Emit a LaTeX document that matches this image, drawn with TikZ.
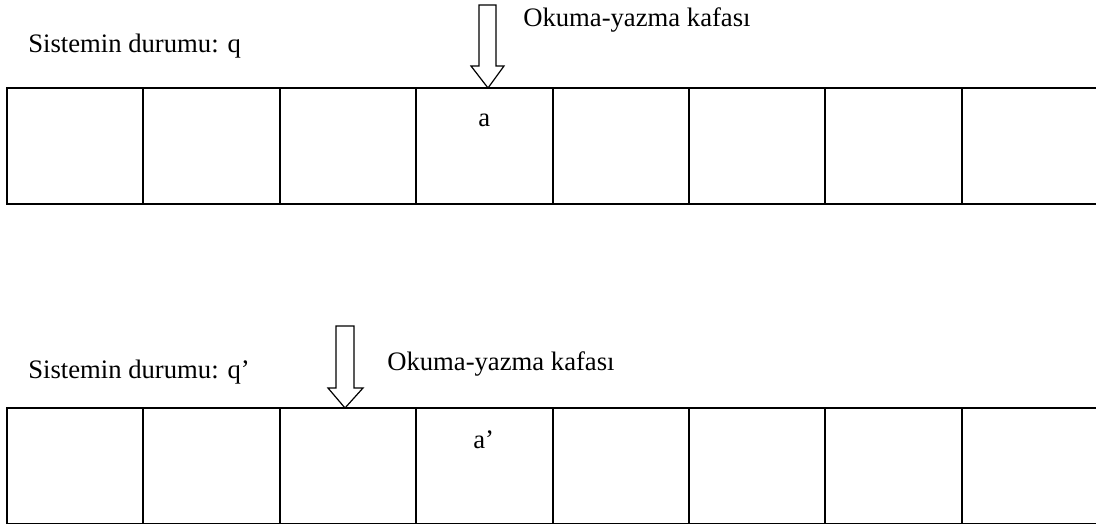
\documentclass[tikz,border=0pt]{standalone}
\usepackage{fontspec}
\setmainfont{Liberation Serif}
\begin{document}
\begin{tikzpicture}[x=0.75pt,y=-0.75pt,
  cell/.style={draw,line width=1.4pt,rectangle,minimum width=102.3pt,minimum height=87pt,inner sep=0pt,outer sep=0pt,anchor=north west},
  lbl/.style={inner sep=0pt,anchor=base west,font=\fontsize{20}{24}\selectfont},
  headarrow/.style={draw,line width=0.9pt,line join=miter}]
\useasboundingbox (0,0) rectangle (1096,524);
% top tape
\foreach \i in {1,...,8} {
  \node[cell] (t\i) at ({7+136.4*(\i-1)},88) {};
}
% bottom tape
\foreach \i in {1,...,8} {
  \node[cell] (b\i) at ({7+136.4*(\i-1)},408) {};
}
% labels
\node[lbl] (s1) at (28,53) {Sistemin durumu: q};
\node[lbl] (h1) at (523,27) {Okuma-yazma kafası};
\node[lbl] (a1) at (478,127) {a};
\node[lbl] (s2) at (28,378) {Sistemin durumu: q’};
\node[lbl] (h2) at (387,370) {Okuma-yazma kafası};
\node[lbl] (a2) at (473,448) {a’};
% head arrows
\draw[headarrow] (479,5) -- (496,5) -- (496,66) -- (504,66) -- (488,88) -- (471,66) -- (479,66) -- cycle;
\draw[headarrow] (336,326) -- (354,326) -- (354,388) -- (363,388) -- (345,408) -- (328,388) -- (336,388) -- cycle;
\end{tikzpicture}
\end{document}
